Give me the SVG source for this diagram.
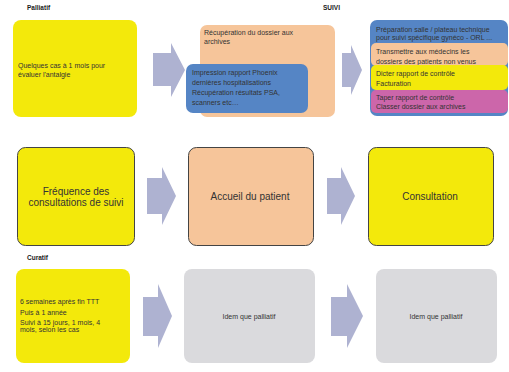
<svg xmlns="http://www.w3.org/2000/svg" width="509" height="372" viewBox="0 0 509 372">
<style>
text{font-family:"Liberation Sans",Arial,sans-serif;fill:#333}
.lbl{font-size:6.5px;font-weight:bold;fill:#1a1a1a}
.s{font-size:7px}
.m{font-size:10px;text-anchor:middle}
.c{font-size:7px;text-anchor:middle}
.arr{fill:#aeb2d1}
.y{fill:#f3e90b}
.o{fill:#f6c59a}
.b{fill:#5585c5}
.p{fill:#cc66aa}
.g{fill:#dadadd}
.k{stroke:#444;stroke-width:1}
</style>
<rect width="509" height="372" fill="#fff"/>
<text class="lbl" x="27" y="10">Palliatif</text>
<text class="lbl" x="323" y="10">SUIVI</text>
<text class="lbl" x="27" y="260">Curatif</text>
<g id="connectors">
<polygon class="arr" points="153,53 171,53 171,43 185,70 171,97 171,86 153,86"/>
<polygon class="arr" points="342,53 351,53 351,45 362,70 351,95 351,87 342,87"/>
<polygon class="arr" points="147,178 162,178 162,167 176,196 162,225 162,214 147,214"/>
<polygon class="arr" points="327,178 341,178 341,167 355,196 341,225 341,214 327,214"/>
<polygon class="arr" points="143,297 158,297 158,284 172,316 158,348 158,336 143,336"/>
<polygon class="arr" points="331,297 347,297 347,284 363,316 347,348 347,336 331,336"/>
</g>
<g id="pal1">
<rect class="y" x="13" y="20" width="124" height="97" rx="8"/>
<text class="s" x="18" y="68">Quelques cas à 1 mois pour</text>
<text class="s" x="18" y="77">évaluer l'antalgie</text>
</g>
<g id="pal2">
<rect class="o" x="200" y="25" width="135" height="92" rx="7"/>
<text class="s" x="204" y="35">Récupération du dossier aux</text>
<text class="s" x="204" y="44">archives</text>
</g>
<g id="pal2b">
<rect class="b" x="186" y="64" width="122" height="49" rx="7"/>
<text class="s" x="192" y="75">Impression rapport Phoenix</text>
<text class="s" x="192" y="85">dernières hospitalisations</text>
<text class="s" x="192" y="95">Récupération résultats PSA,</text>
<text class="s" x="192" y="105">scanners etc…</text>
</g>
<g id="pal3">
<rect class="b" x="370" y="20" width="138" height="96" rx="7"/>
<text class="s" x="376" y="32">Préparation salle / plateau technique</text>
<text class="s" x="376" y="40">pour suivi spécifique gynéco - ORL ...</text>
</g>
<g id="pal3a">
<rect class="o" x="371" y="43" width="137" height="23" rx="5"/>
<text class="s" x="376" y="54">Transmettre aux médecins les</text>
<text class="s" x="376" y="64">dossiers des patients non venus</text>
</g>
<g id="pal3b">
<rect class="y" x="371" y="65" width="137" height="25" rx="5"/>
<text class="s" x="376" y="76">Dicter rapport de contrôle</text>
<text class="s" x="376" y="86">Facturation</text>
</g>
<g id="pal3c">
<rect class="p" x="371" y="90" width="137" height="23" rx="5"/>
<text class="s" x="376" y="100">Taper rapport de contrôle</text>
<text class="s" x="376" y="109">Classer dossier aux archives</text>
</g>
<g id="freq">
<rect class="y k" x="17.5" y="147.5" width="117" height="98" rx="8"/>
<text class="m" x="76" y="195">Fréquence des</text>
<text class="m" x="76" y="206">consultations de suivi</text>
</g>
<g id="accueil">
<rect class="o k" x="188.5" y="147.5" width="125" height="98" rx="8"/>
<text class="m" x="250" y="200">Accueil du patient</text>
</g>
<g id="consult">
<rect class="y k" x="368.5" y="147.5" width="125" height="98" rx="8"/>
<text class="m" x="430" y="200">Consultation</text>
</g>
<g id="cur1">
<rect class="y" x="16" y="269" width="114" height="94" rx="8"/>
<text class="s" x="20" y="304">6 semaines après fin TTT</text>
<text class="s" x="20" y="315">Puis à 1 année</text>
<text class="s" x="20" y="325">Suivi à 15 jours, 1 mois, 4</text>
<text class="s" x="20" y="332">mois, selon les cas</text>
</g>
<g id="cur2">
<rect class="g" x="184" y="269" width="131" height="94" rx="8"/>
<text class="c" x="249" y="319">Idem que palliatif</text>
</g>
<g id="cur3">
<rect class="g" x="376" y="269" width="121" height="94" rx="8"/>
<text class="c" x="436" y="319">Idem que palliatif</text>
</g>
</svg>
